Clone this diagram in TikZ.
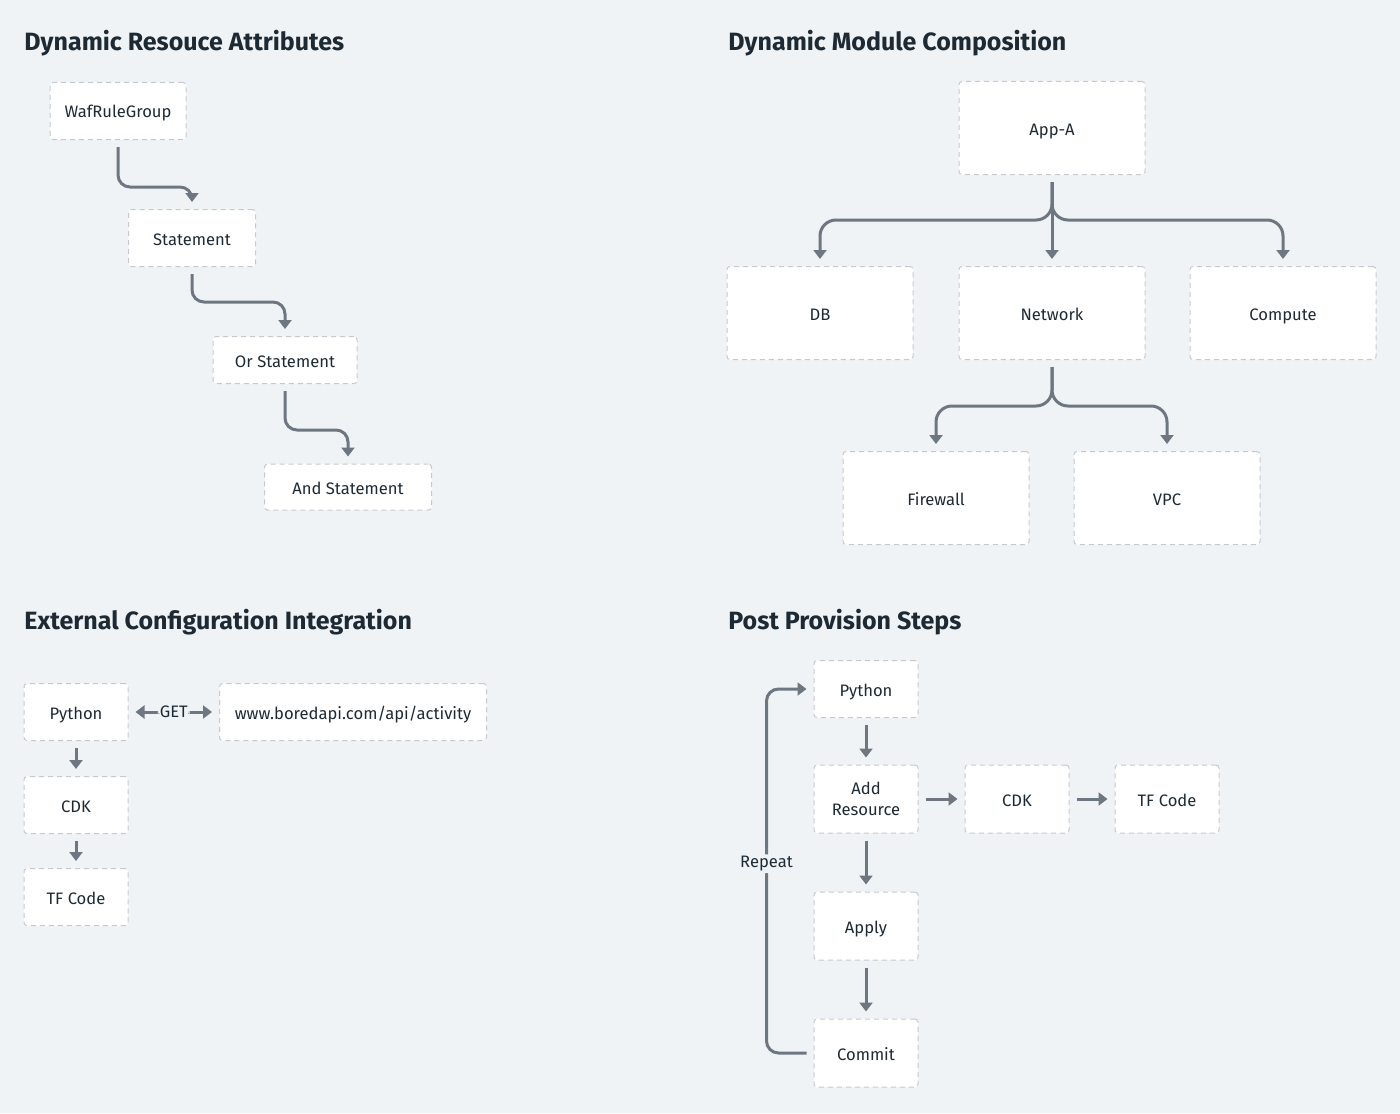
\documentclass[tikz,border=0pt]{standalone}
\usepackage{fontspec}
\setmainfont{Fira Sans}
\usetikzlibrary{arrows.meta}

\definecolor{bg}{HTML}{F0F3F6}
\definecolor{ink}{HTML}{1E2A33}
\definecolor{edge}{HTML}{C6CACF}
\definecolor{wire}{HTML}{6E7781}

\tikzset{
    box/.style={draw=edge, dash pattern=on 2.5pt off 2pt, line width=0.5pt, fill=white,
        rounded corners=1.5pt, inner sep=0pt, text=ink, font=\fontsize{8.3}{10.5}\selectfont,
        align=center, text height=0.8em, text depth=0.1em},
    small/.style={box, minimum width=52pt, minimum height=28.5pt},
    tall/.style={box, minimum width=52pt, minimum height=34pt},
    big/.style={box, minimum width=93pt, minimum height=46.5pt},
    flow/.style={draw=wire, line width=1.5pt, rounded corners=6pt,
        -{Triangle[width=6.5pt,length=4.5pt]}, shorten <=3.5pt, shorten >=3.5pt},
    title/.style={anchor=west, inner sep=0pt, text=ink, font=\fontsize{12.5}{14}\selectfont\bfseries},
    tag/.style={fill=bg, inner sep=1pt, text=ink, font=\fontsize{8.3}{10.5}\selectfont}
}

\begin{document}
\begin{tikzpicture}[x=0.5pt, y=-0.5pt]
    \useasboundingbox[fill=bg] (0,0) rectangle (1400,1113);

    % titles
    \node[title] (t1) at (24,43) {Dynamic Resouce Attributes};
    \node[title] (t2) at (728,43) {Dynamic Module Composition};
    \node[title] (t3) at (24,622) {External Configuration Integration};
    \node[title] (t4) at (728,622) {Post Provision Steps};

    % dynamic resource attributes
    \node[box, minimum width=68pt, minimum height=28.5pt] (waf) at (118,111) {WafRuleGroup};
    \node[box, minimum width=63.5pt, minimum height=28.5pt] (stmt) at (192,238) {Statement};
    \node[box, minimum width=72pt, minimum height=23.5pt] (orst) at (285,360) {Or Statement};
    \node[box, minimum width=83.5pt, minimum height=23pt] (andst) at (348,487) {And Statement};
    \draw[flow] (waf.south) -- ++(0,47) -| (stmt.north);
    \draw[flow] (stmt.south) -- ++(0,35) -| (orst.north);
    \draw[flow] (orst.south) -- ++(0,46) -| (andst.north);

    % dynamic module composition
    \node[big] (appa) at (1052,128) {App-A};
    \node[big] (db) at (820,313) {DB};
    \node[big] (net) at (1052,313) {Network};
    \node[big] (comp) at (1283,313) {Compute};
    \node[big] (fw) at (936,498) {Firewall};
    \node[big] (vpc) at (1167,498) {VPC};
    \draw[flow, rounded corners=8pt] (appa.south) -- ++(0,45) -| (db.north);
    \draw[flow, rounded corners=8pt] (appa.south) -- ++(0,45) -| (comp.north);
    \draw[flow] (appa.south) -- (net.north);
    \draw[flow, rounded corners=8pt] (net.south) -- ++(0,46) -| (fw.north);
    \draw[flow, rounded corners=8pt] (net.south) -- ++(0,46) -| (vpc.north);

    % external configuration
    \node[small] (py) at (76,712) {Python};
    \node[box, minimum width=133.5pt, minimum height=28.5pt] (url) at (353,712) {www.boredapi.com/api/activity};
    \node[small] (cdk) at (76,805) {CDK};
    \node[small] (tf) at (76,897) {TF Code};
    \draw[flow, {Triangle[width=6.5pt,length=4.5pt]}-{Triangle[width=6.5pt,length=4.5pt]}]
        (py.east) -- node[tag] (get) {GET} (url.west);
    \draw[flow] (py.south) -- (cdk.north);
    \draw[flow] (cdk.south) -- (tf.north);

    % post provision
    \node[small] (pyb) at (866,689) {Python};
    \node[tall, text height=, text depth=] (add) at (866,799) {Add\\Resource};
    \node[tall] (cdkb) at (1017,799) {CDK};
    \node[tall] (tfb) at (1167,799) {TF Code};
    \node[tall] (apply) at (866,926) {Apply};
    \node[tall] (commit) at (866,1053) {Commit};
    \draw[flow] (pyb.south) -- (add.north);
    \draw[flow] (add.south) -- (apply.north);
    \draw[flow] (apply.south) -- (commit.north);
    \draw[flow] (add.east) -- (cdkb.west);
    \draw[flow] (cdkb.east) -- (tfb.west);
    \draw[flow] (commit.west) -- ++(-47,0) |- node[tag, pos=0.26] (rep) {Repeat} (pyb.west);
\end{tikzpicture}
\end{document}
